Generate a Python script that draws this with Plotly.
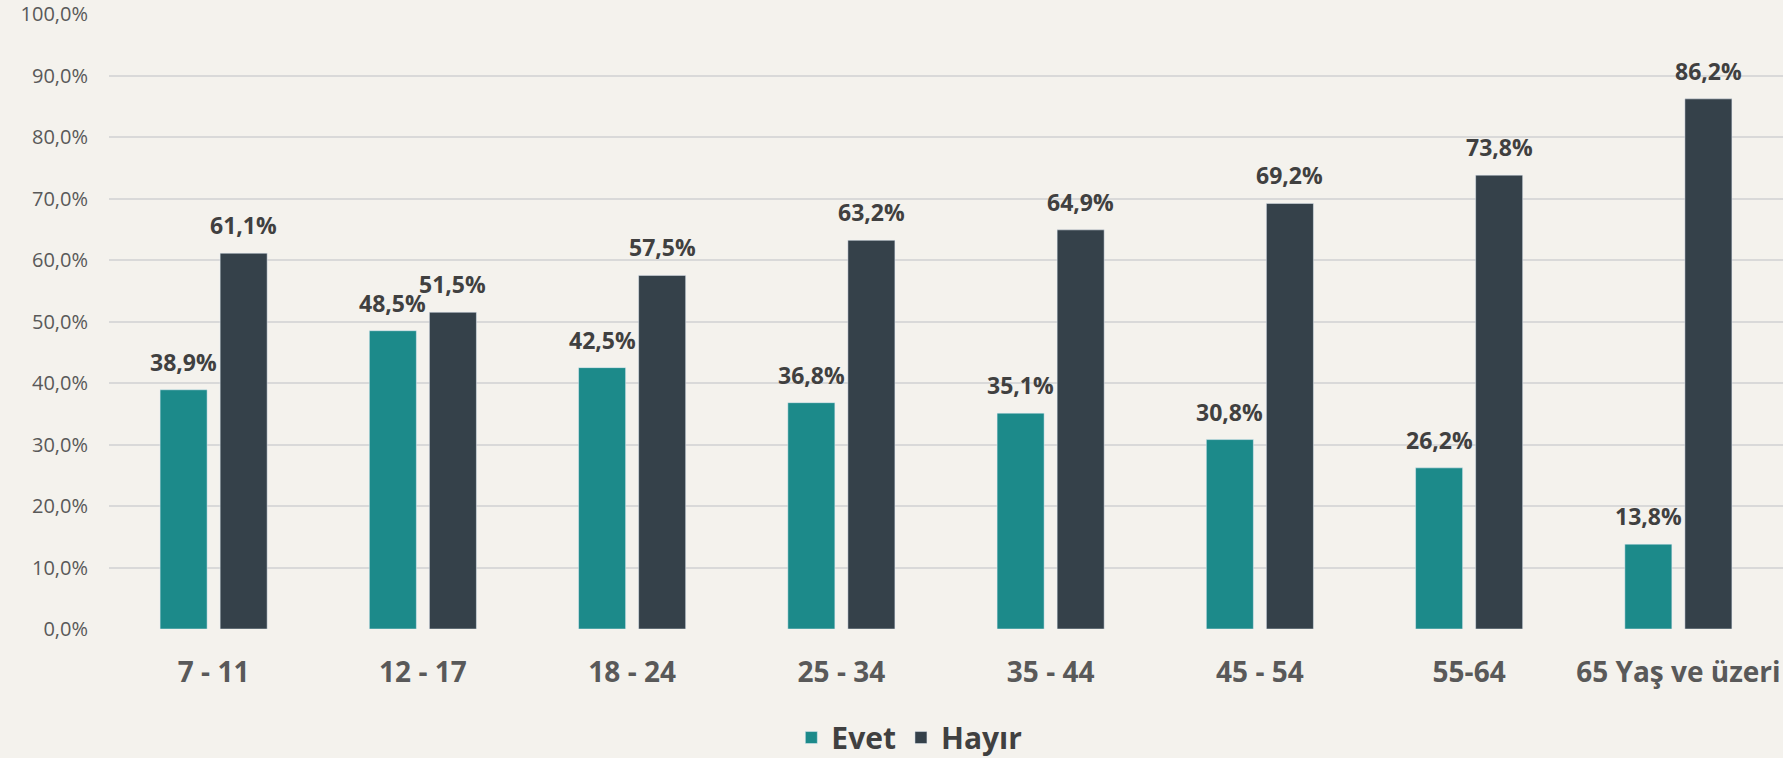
import plotly.graph_objects as go

categories = ["7 - 11", "12 - 17", "18 - 24", "25 - 34", "35 - 44", "45 - 54", "55-64", "65 Yaş ve üzeri"]
evet = [38.9, 48.5, 42.5, 36.8, 35.1, 30.8, 26.2, 13.8]
hayir = [61.1, 51.5, 57.5, 63.2, 64.9, 69.2, 73.8, 86.2]

fig = go.Figure()
fig.add_trace(go.Bar(name="Evet", x=categories, y=evet, marker_color="#1c8a8a"))
fig.add_trace(go.Bar(name="Hayır", x=categories, y=hayir, marker_color="#35414a"))

# value labels above the bars (shifted onto each bar of the group)
for vals, dx in [(evet, -30), (hayir, 30)]:
    for cat, v in zip(categories, vals):
        fig.add_annotation(
            x=cat, y=v, text=f"{v:.1f}%".replace(".", ","),
            xshift=dx, yshift=10, yanchor="bottom", showarrow=False,
            font=dict(family="Open Sans", size=23, color="#404040", weight="bold"),
        )

fig.update_layout(
    barmode="group",
    bargap=0.426,
    bargroupgap=0.217,
    separators=",.",
    width=1783,
    height=758,
    margin=dict(l=109, r=0, t=14, b=129),
    paper_bgcolor="#f4f2ed",
    plot_bgcolor="rgba(0,0,0,0)",
    font=dict(family="Open Sans", color="#595959"),
    legend=dict(
        orientation="h", xref="container", yref="container",
        x=0.51, xanchor="center", y=0.027, yanchor="middle",
        font=dict(size=30, color="#404040", weight="bold"),
        itemwidth=30, traceorder="normal",
    ),
)
fig.update_xaxes(
    showgrid=False, showline=False, ticks="", automargin=False,
    tickfont=dict(size=28, color="#595959", weight="bold"),
    ticklabelstandoff=24,
)
fig.update_yaxes(
    range=[0, 100], tick0=0, dtick=10, tickformat=".1f", ticksuffix="%",
    showgrid=True, gridcolor="#d9d9d9", gridwidth=2, zeroline=False,
    showline=False, ticks="", automargin=False,
    tickfont=dict(size=20, color="#595959"),
    ticklabelstandoff=20,
)

# page has a default body margin; remove it so the figure fills the window
fig.write_html("out.html", config={"displayModeBar": False},
               post_script="document.body.style.margin='0';")
